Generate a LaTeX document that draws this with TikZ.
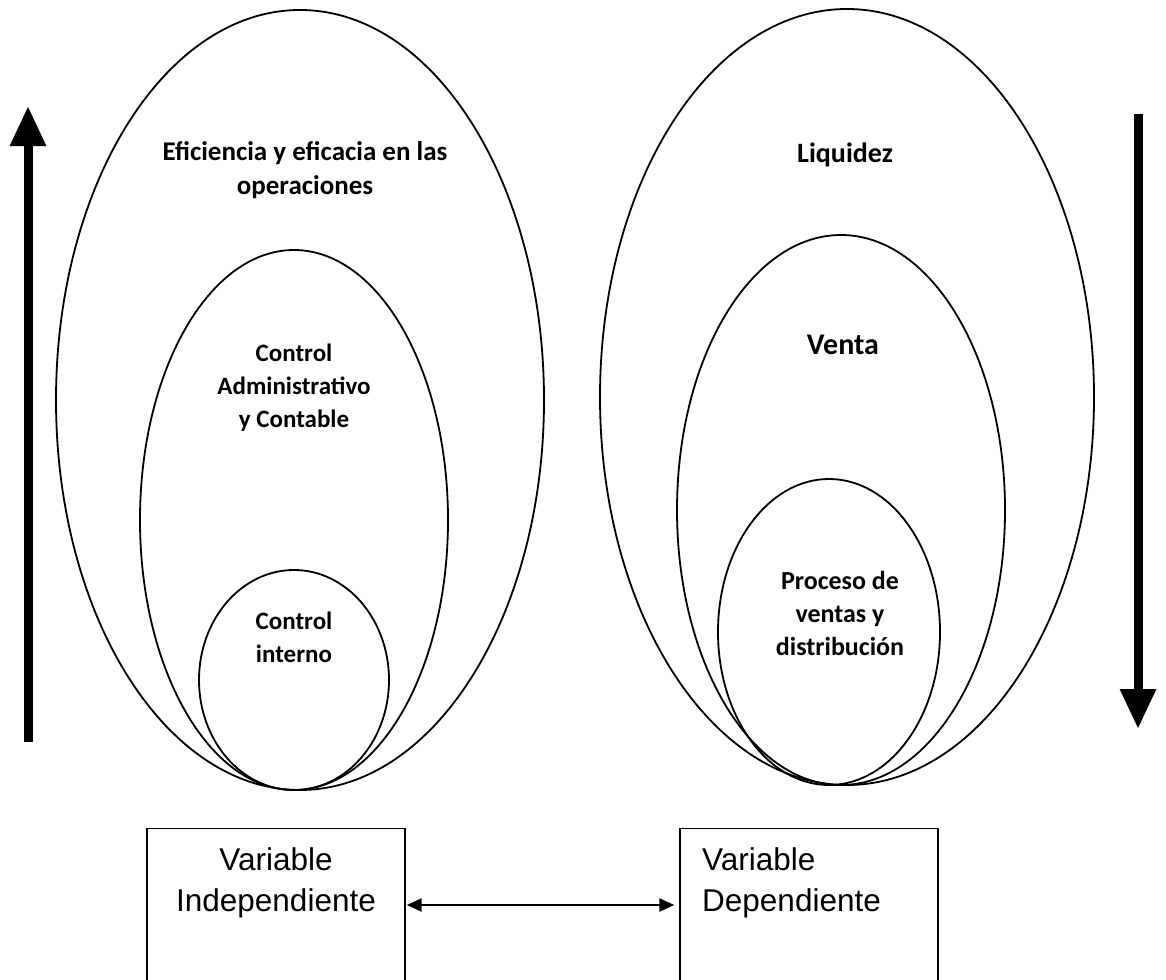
\documentclass[tikz,border=0pt]{standalone}
\usepackage{fontspec}
\setmainfont{Carlito}
\newfontfamily\arialf{Liberation Sans}
\usetikzlibrary{shapes.geometric,arrows.meta}

\tikzset{
  ring/.style={draw, ellipse, line width=1.8pt, inner sep=0pt},
  lbl/.style={font=\bfseries\fontsize{25}{33}\selectfont, align=center, inner sep=0pt},
  varbox/.style={draw, line width=1.4pt, minimum width=258pt, minimum height=160pt, inner sep=0pt},
  vartext/.style={font=\arialf\fontsize{31.5}{41}\selectfont, inner sep=0pt},
  bigarrow/.style={line width=9pt, -{Triangle[width=34pt,length=40pt]}},
  link/.style={line width=2.4pt, {Triangle[width=13pt,length=15pt]}-{Triangle[width=13pt,length=15pt]}}
}

\begin{document}
\begin{tikzpicture}[x=1pt,y=-1pt]
\useasboundingbox (0,0) rectangle (1166,979);
\clip (0,0) rectangle (1166,979);

% left nest: internal control inside administrative control inside efficiency
\node[ring, minimum width=488pt, minimum height=780pt] (outerL) at (300,400) {};
\node[ring, minimum width=308pt, minimum height=540pt] (midL) at (294,520) {};
\node[ring, minimum width=190pt, minimum height=220pt] (innerL) at (294,680) {};

% right nest: sales process inside sales inside liquidity
\node[ring, minimum width=494pt, minimum height=776pt] (outerR) at (847,397) {};
\node[ring, minimum width=328pt, minimum height=550pt] (midR) at (841,510) {};
\node[ring, minimum width=222pt, minimum height=306pt] (innerR) at (829,632) {};

% labels
\node[lbl, font=\bfseries\fontsize{27}{34}\selectfont] (tOuterL) at (305,170) {Eficiencia y eficacia en las\\operaciones};
\node[lbl] (tMidL) at (294,388) {Control\\Administrativo\\y Contable};
\node[lbl] (tInnerL) at (294,637) {Control\\interno};
\node[lbl, font=\bfseries\fontsize{28}{33}\selectfont] (tOuterR) at (845,155) {Liquidez};
\node[lbl, font=\bfseries\fontsize{30}{33}\selectfont] (tMidR) at (843,345) {Venta};
\node[lbl, font=\bfseries\fontsize{26}{33}\selectfont] (tInnerR) at (840,613) {Proceso de\\ventas y\\distribución};

% direction arrows
\coordinate (upS) at (28,742);
\coordinate (upE) at (28,106);
\coordinate (dnS) at (1138,114);
\coordinate (dnE) at (1138,729);
\draw[bigarrow] (upS) -- (upE);
\draw[bigarrow] (dnS) -- (dnE);

% variable boxes
\node[varbox, anchor=north] (boxL) at (276,828) {};
\node[varbox, anchor=north] (boxR) at (809,828) {};
\node[vartext, align=center, anchor=base] (txtL) at (276,911) {Variable\\Independiente};
\node[vartext, align=left, anchor=base west] (txtR) at (702,911) {Variable\\Dependiente};

\draw[link, shorten >=5pt, shorten <=1pt] (boxL.east |- 0,905) -- (boxR.west |- 0,905);
\end{tikzpicture}
\end{document}
